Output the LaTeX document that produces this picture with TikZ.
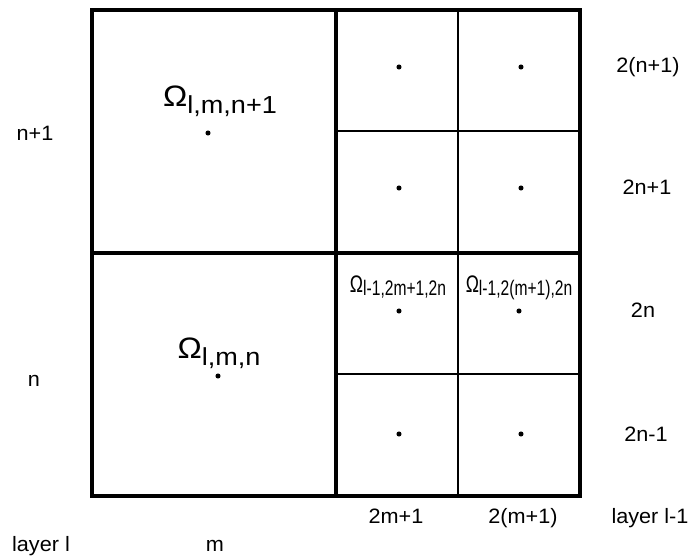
\documentclass[tikz,border=0pt]{standalone}
\usepackage{fontspec}
\setmainfont[FakeStretch=1.04]{Liberation Sans}
\newfontfamily\omegafont[FakeStretch=1.1]{Liberation Sans}
\newfontfamily\narrowfont[FakeStretch=0.74]{Liberation Sans}
\tikzset{
  thickline/.style={line width=2.8pt},
  thinline/.style={line width=1.4pt},
  centre/.style={circle,fill,inner sep=0pt,minimum size=3.6pt},
  lbl/.style={anchor=base,inner sep=0pt,font=\fontsize{14.8}{17}\selectfont},
  biglbl/.style={anchor=base,inner sep=0pt,font=\omegafont\fontsize{17.5}{20}\selectfont},
  smalllbl/.style={anchor=base,inner sep=0pt,font=\narrowfont\fontsize{15}{17}\selectfont}
}
\newcommand{\bigom}{{\fontsize{21}{22}\selectfont Ω}}
\newcommand{\smallom}{{\fontsize{17}{18}\selectfont Ω}}
\begin{document}
\begin{tikzpicture}[x=0.025cm,y=-0.025cm]
\useasboundingbox (0,0) rectangle (692,558);
% cells of layer l-1
\draw[thinline] (458,10) -- (458,496);
\draw[thinline] (336,131) -- (580,131);
\draw[thinline] (336,374) -- (580,374);
% cells of layer l
\draw[thickline] (92,10) rectangle (580,496);
\draw[thickline] (336,10) -- (336,496);
\draw[thickline] (92,253) -- (580,253);
% centres
\node[centre] (c1) at (208,133) {}; \node[centre] (c2) at (218,376) {};
\node[centre] (d1) at (399,67) {}; \node[centre] (d2) at (521,67) {};
\node[centre] (d3) at (399,188) {}; \node[centre] (d4) at (521,188) {};
\node[centre] (d5) at (399,311) {}; \node[centre] (d6) at (519,311) {};
\node[centre] (d7) at (399,434) {}; \node[centre] (d8) at (521,434) {};
% names of the cells
\node[biglbl] (om1) at (220,106.5) {\bigom\raisebox{-0.3em}{l,m,n+1}};
\node[biglbl] (om2) at (219,358) {\bigom\raisebox{-0.3em}{l,m,n}};
\node[smalllbl] (om3) at (398,292) {\smallom\raisebox{-0.15em}{l-1,2m+1,2n}};
\node[smalllbl] (om4) at (519,292) {\smallom\raisebox{-0.15em}{l-1,2(m+1),2n}};
% indices
\node[lbl] (n1) at (35,141) {n+1}; \node[lbl] (n0) at (34,386) {n};
\node[lbl] (r1) at (648,73) {2(n+1)}; \node[lbl] (r2) at (647,195) {2n+1};
\node[lbl] (r3) at (643,317) {2n}; \node[lbl] (r4) at (646,441) {2n-1};
\node[lbl] (b1) at (396,523) {2m+1}; \node[lbl] (b2) at (523,523) {2(m+1)};
\node[lbl] (b3) at (650,523) {layer l-1};
\node[lbl] (b4) at (41,551) {layer l}; \node[lbl] (b5) at (215,551) {m};
\end{tikzpicture}
\end{document}
